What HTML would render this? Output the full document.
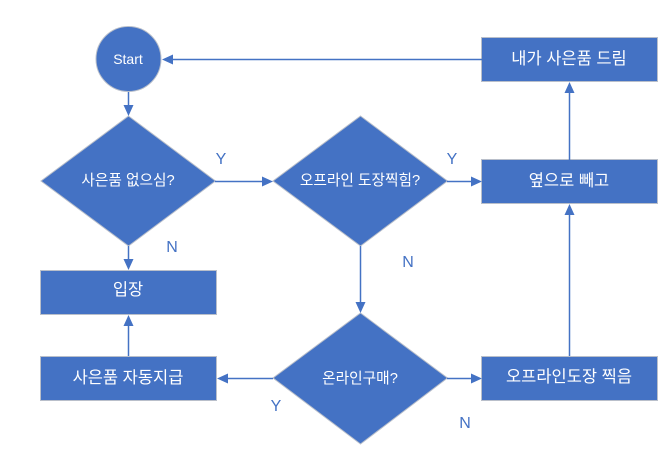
<!DOCTYPE html>
<html><head><meta charset="utf-8"><style>
html,body{margin:0;padding:0;background:#fff;width:668px;height:457px;overflow:hidden}
svg{display:block}
text{font-family:"Liberation Sans","Noto Sans CJK KR","NanumGothic",sans-serif;text-anchor:middle}
.w{fill:#fff;font-size:16.5px}
.d{fill:#fff;font-size:14.7px}
.t{fill:#fff;font-size:14px}
.l{fill:#4472c4;font-size:16px}
.s{fill:#4472c4;stroke:#b9bfca;stroke-width:1}
.c{stroke:#4472c4;stroke-width:1.5;fill:none}
.a{fill:#4472c4}
</style></head><body>
<svg width="668" height="457" viewBox="0 0 668 457" xmlns="http://www.w3.org/2000/svg">
<circle class="s" cx="128.500" cy="59" r="32.500"/>
<polygon class="s" points="128.500,116 215.500,181 128.500,246 41,181"/>
<polygon class="s" points="360.500,116 447.500,181 360.500,246 273,181"/>
<polygon class="s" points="360.500,313 447.500,378 360.500,444 273,378"/>
<rect class="s" x="40.500" y="270.500" width="176" height="44"/>
<rect class="s" x="40.500" y="356.500" width="176" height="44"/>
<rect class="s" x="481.500" y="37.500" width="176" height="44"/>
<rect class="s" x="481.500" y="159.500" width="176" height="44"/>
<rect class="s" x="481.500" y="356.500" width="176" height="44"/>

<path class="c" d="M482 59.500H170"/><polygon class="a" points="162,59.500 173,54.500 173,64.500"/>
<path class="c" d="M128.500 92V108"/><polygon class="a" points="128.500,116 123.500,105 133.500,105"/>
<path class="c" d="M215 181.500H265"/><polygon class="a" points="273,181.500 262,176.500 262,186.500"/>
<path class="c" d="M447 181.500H474"/><polygon class="a" points="482,181.500 471,176.500 471,186.500"/>
<path class="c" d="M128.500 246V262"/><polygon class="a" points="128.500,270 123.500,259 133.500,259"/>
<path class="c" d="M128.500 356V322"/><polygon class="a" points="128.500,315 123.500,326 133.500,326"/>
<path class="c" d="M360.500 246V305"/><polygon class="a" points="360.500,313 355.500,302 365.500,302"/>
<path class="c" d="M273 378.500H224"/><polygon class="a" points="217,378.500 228,373.500 228,383.500"/>
<path class="c" d="M447 378.500H474"/><polygon class="a" points="482,378.500 471,373.500 471,383.500"/>
<path class="c" d="M569.500 356V212"/><polygon class="a" points="569.500,204 564.500,215 574.500,215"/>
<path class="c" d="M569.500 160V90"/><polygon class="a" points="569.500,82 564.500,93 574.500,93"/>

<text class="t" x="128" y="64">Start</text>
<text class="d" x="128" y="185">사은품 없으심?</text>
<text class="d" x="360" y="185">오프라인 도장찍힘?</text>
<text class="d" x="360" y="383">온라인구매?</text>
<text class="w" x="128" y="295">입장</text>
<text class="w" x="128" y="383">사은품 자동지급</text>
<text class="w" x="569" y="64">내가 사은품 드림</text>
<text class="w" x="569" y="186">옆으로 빼고</text>
<text class="w" x="569" y="382">오프라인도장 찍음</text>

<text class="l" x="221" y="164">Y</text>
<text class="l" x="452" y="164">Y</text>
<text class="l" x="172" y="252">N</text>
<text class="l" x="408" y="267">N</text>
<text class="l" x="276" y="411">Y</text>
<text class="l" x="465" y="428">N</text>
</svg>
</body></html>
